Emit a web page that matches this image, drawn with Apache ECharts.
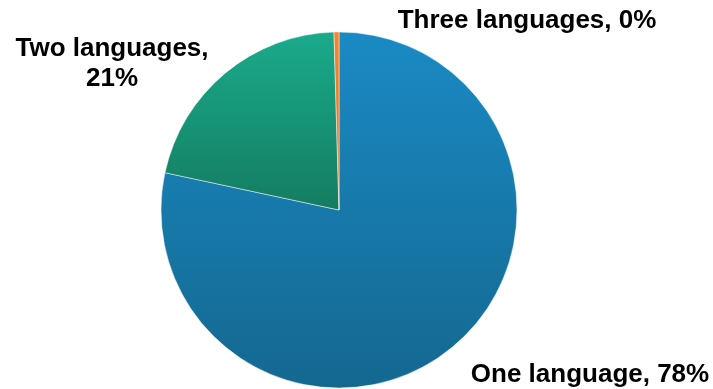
<!DOCTYPE html>
<html>
<head>
<meta charset="utf-8">
<script src="https://cdn.jsdelivr.net/npm/echarts@6/dist/echarts.min.js"></script>
<style>
  html, body { margin: 0; padding: 0; background: #ffffff; }
  #chart { width: 713px; height: 389px; }
</style>
</head>
<body>
<div id="chart"></div>
<script>
// Number of languages spoken, share of respondents (%)
const categories = ['One language', 'Two languages', 'Three languages'];
const shares = [78.4, 21.2, 0.45];

const sliceColors = [
  ['#1a8ac4', '#146890'],
  ['#1aab8c', '#147c60'],
  ['#f5852e', '#e0701c']
];

// label anchor points (pixels) for each slice
const labelSpots = [
  { x: 590, y: 375 },
  { x: 112, y: 64 },
  { x: 527, y: 21 }
];

const chart = echarts.init(document.getElementById('chart'), null, { renderer: 'canvas' });

const data = categories.map((name, i) => ({
  name: name,
  value: shares[i],
  itemStyle: {
    color: {
      type: 'linear', x: 0, y: 0, x2: 0, y2: 1,
      colorStops: [
        { offset: 0, color: sliceColors[i][0] },
        { offset: 1, color: sliceColors[i][1] }
      ]
    }
  }
}));

chart.setOption({
  animation: false,
  series: [{
    type: 'pie',
    center: [339, 210],
    radius: 178,
    startAngle: 90,
    clockwise: true,
    data: data,
    itemStyle: { borderColor: 'rgba(255,255,255,0.6)', borderWidth: 0.8 },
    label: {
      show: true,
      position: 'outside',
      alignTo: 'none',
      overflow: 'none',
      width: 400,
      fontFamily: 'Liberation Sans, Arial, sans-serif',
      fontWeight: 'bold',
      fontSize: 26,
      color: '#000000',
      lineHeight: 30,
      align: 'center',
      formatter: p => {
        const pct = Math.round(p.value) + '%';
        return p.dataIndex === 1 ? p.name + ',\n' + pct : p.name + ', ' + pct;
      }
    },
    labelLine: { show: false },
    labelLayout: params => ({
      x: labelSpots[params.dataIndex].x,
      y: labelSpots[params.dataIndex].y,
      align: 'center',
      verticalAlign: 'middle'
    })
  }]
});
</script>
</body>
</html>
